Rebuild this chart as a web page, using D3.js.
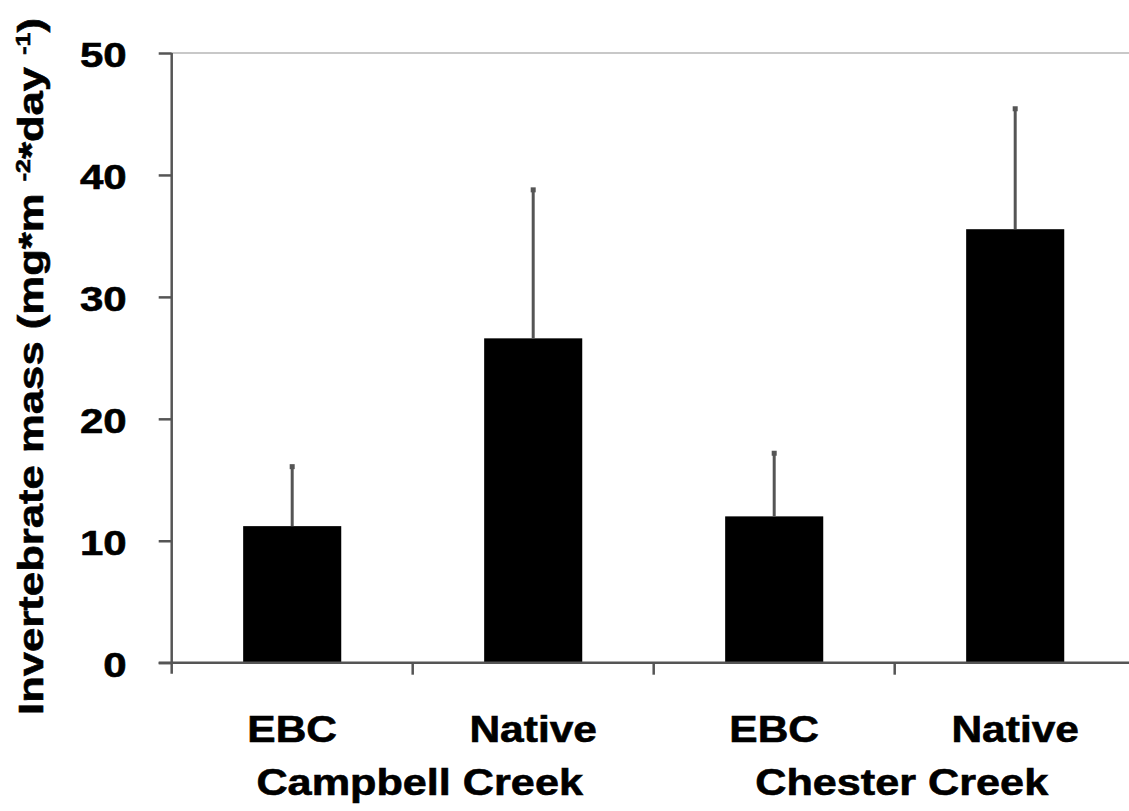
<!DOCTYPE html>
<html>
<head>
<meta charset="utf-8">
<script src="https://cdn.jsdelivr.net/npm/d3@7"></script>
<style>
  html, body { margin: 0; padding: 0; background: #fff; }
  svg text { font-family: "Liberation Sans", Arial, sans-serif; font-weight: bold; fill: #000; stroke: #000; stroke-width: 0.6; }
</style>
</head>
<body>
<svg id="chart"></svg>
<script>
// bar labels and the creek each pair belongs to
const treatments = ["EBC", "Native", "EBC", "Native"]
const creeks = ["Campbell Creek", "Chester Creek"]
// mean invertebrate mass and the upper error (SE)
const means = [11.2, 26.6, 12.0, 35.55]
const errors = [5.0, 12.3, 5.3, 10.0]
const yTicks = [0, 10, 20, 30, 40, 50]

const width = 1129
const height = 811
const svg = d3.select('#chart')
    .attr('width', width)
    .attr('height', height)

// the original font is wider than Liberation Sans, so stretch the glyphs a bit
function widen(sel, factor) {
    sel.each(function () {
        const len = this.getComputedTextLength()
        d3.select(this)
            .attr('textLength', len * factor)
            .attr('lengthAdjust', 'spacingAndGlyphs')
    })
}

// plot area (the right side runs off the picture like in the original)
const plotLeft = 171.7, plotRight = 1135.7, plotTop = 53, plotBottom = 662.7

const x = d3.scaleBand()
    .domain(d3.range(treatments.length))
    .range([plotLeft, plotRight])
    .paddingInner(0.593)
    .paddingOuter(0.2965)
const step = x.step()

const y = d3.scaleLinear()
    .domain([0, 50])
    .range([plotBottom, plotTop])

// light top border of the plot area
svg.append('line')
    .attr('x1', plotLeft).attr('x2', width)
    .attr('y1', y(50)).attr('y2', y(50))
    .attr('stroke', '#c8c8c8')
    .attr('stroke-width', 2)

// bars
svg.selectAll('rect.bar')
    .data(means)
    .enter().append('rect')
    .attr('class', 'bar')
    .attr('x', (d, i) => x(i))
    .attr('width', x.bandwidth())
    .attr('y', d => y(d))
    .attr('height', d => y(0) - y(d))
    .attr('fill', '#000')

// upper error bars only
const errG = svg.selectAll('g.err')
    .data(means)
    .enter().append('g')
    .attr('class', 'err')
errG.append('line')
    .attr('x1', (d, i) => x(i) + x.bandwidth() / 2)
    .attr('x2', (d, i) => x(i) + x.bandwidth() / 2)
    .attr('y1', d => y(d))
    .attr('y2', (d, i) => y(d + errors[i]))
    .attr('stroke', '#555')
    .attr('stroke-width', 3)
errG.append('rect')
    .attr('x', (d, i) => x(i) + x.bandwidth() / 2 - 2.5)
    .attr('y', (d, i) => y(d + errors[i]) - 1)
    .attr('width', 5)
    .attr('height', 5)
    .attr('fill', '#555')

// y axis
const yAxis = d3.axisLeft(y)
    .tickValues(yTicks)
    .tickSize(13)
    .tickPadding(32)
const gy = svg.append('g')
    .attr('transform', `translate(${plotLeft},0)`)
    .call(yAxis)
gy.select('.domain').attr('stroke', '#555').attr('stroke-width', 2.5)
    .attr('d', `M0,${y(50)}V${y(0) + 11}`)
gy.selectAll('.tick line').attr('stroke', '#555').attr('stroke-width', 2.5)
gy.selectAll('.tick text')
    .attr('font-size', 35)
    .attr('dy', '0.38em')
    .attr('fill', '#000')
    .style('font-family', '"Liberation Sans", Arial, sans-serif')
    .style('font-weight', 'bold')
    .call(widen, 1.2)

// x axis: ticks sit between the bars
const xBoundaries = d3.range(1, treatments.length).map(i => plotLeft + i * step)
const gx = svg.append('g')
gx.append('line')
    .attr('x1', plotLeft - 13).attr('x2', width)
    .attr('y1', y(0)).attr('y2', y(0))
    .attr('stroke', '#555').attr('stroke-width', 2.5)
gx.selectAll('line.xtick')
    .data(xBoundaries)
    .enter().append('line')
    .attr('class', 'xtick')
    .attr('x1', d => d).attr('x2', d => d)
    .attr('y1', y(0)).attr('y2', y(0) + 12)
    .attr('stroke', '#555').attr('stroke-width', 2.5)

// treatment labels
svg.selectAll('text.treat')
    .data(treatments)
    .enter().append('text')
    .attr('class', 'treat')
    .attr('x', (d, i) => x(i) + x.bandwidth() / 2)
    .attr('y', 742)
    .attr('text-anchor', 'middle')
    .attr('font-size', 36)
    .text(d => d)
    .call(widen, 1.18)

// creek labels, centred under each pair
svg.selectAll('text.creek')
    .data(creeks)
    .enter().append('text')
    .attr('class', 'creek')
    .attr('x', (d, i) => plotLeft + (2 * i + 1) * step + 7)
    .attr('y', 795)
    .attr('text-anchor', 'middle')
    .attr('font-size', 36)
    .text(d => d)
    .call(widen, 1.2)

// y axis title with superscripts
const title = svg.append('text')
    .attr('transform', `translate(43,${(18 + 715) / 2}) rotate(-90)`)
    .attr('text-anchor', 'middle')
    .attr('font-size', 35)
title.append('tspan').text('Invertebrate mass (mg*m ')
title.append('tspan').attr('font-size', 20).attr('dy', -13).text('-2')
title.append('tspan').attr('dy', 13).text('*day ')
title.append('tspan').attr('font-size', 20).attr('dy', -13).text('-1')
title.append('tspan').attr('dy', 13).text(')')
title.attr('textLength', 697).attr('lengthAdjust', 'spacingAndGlyphs')
</script>
</body>
</html>
